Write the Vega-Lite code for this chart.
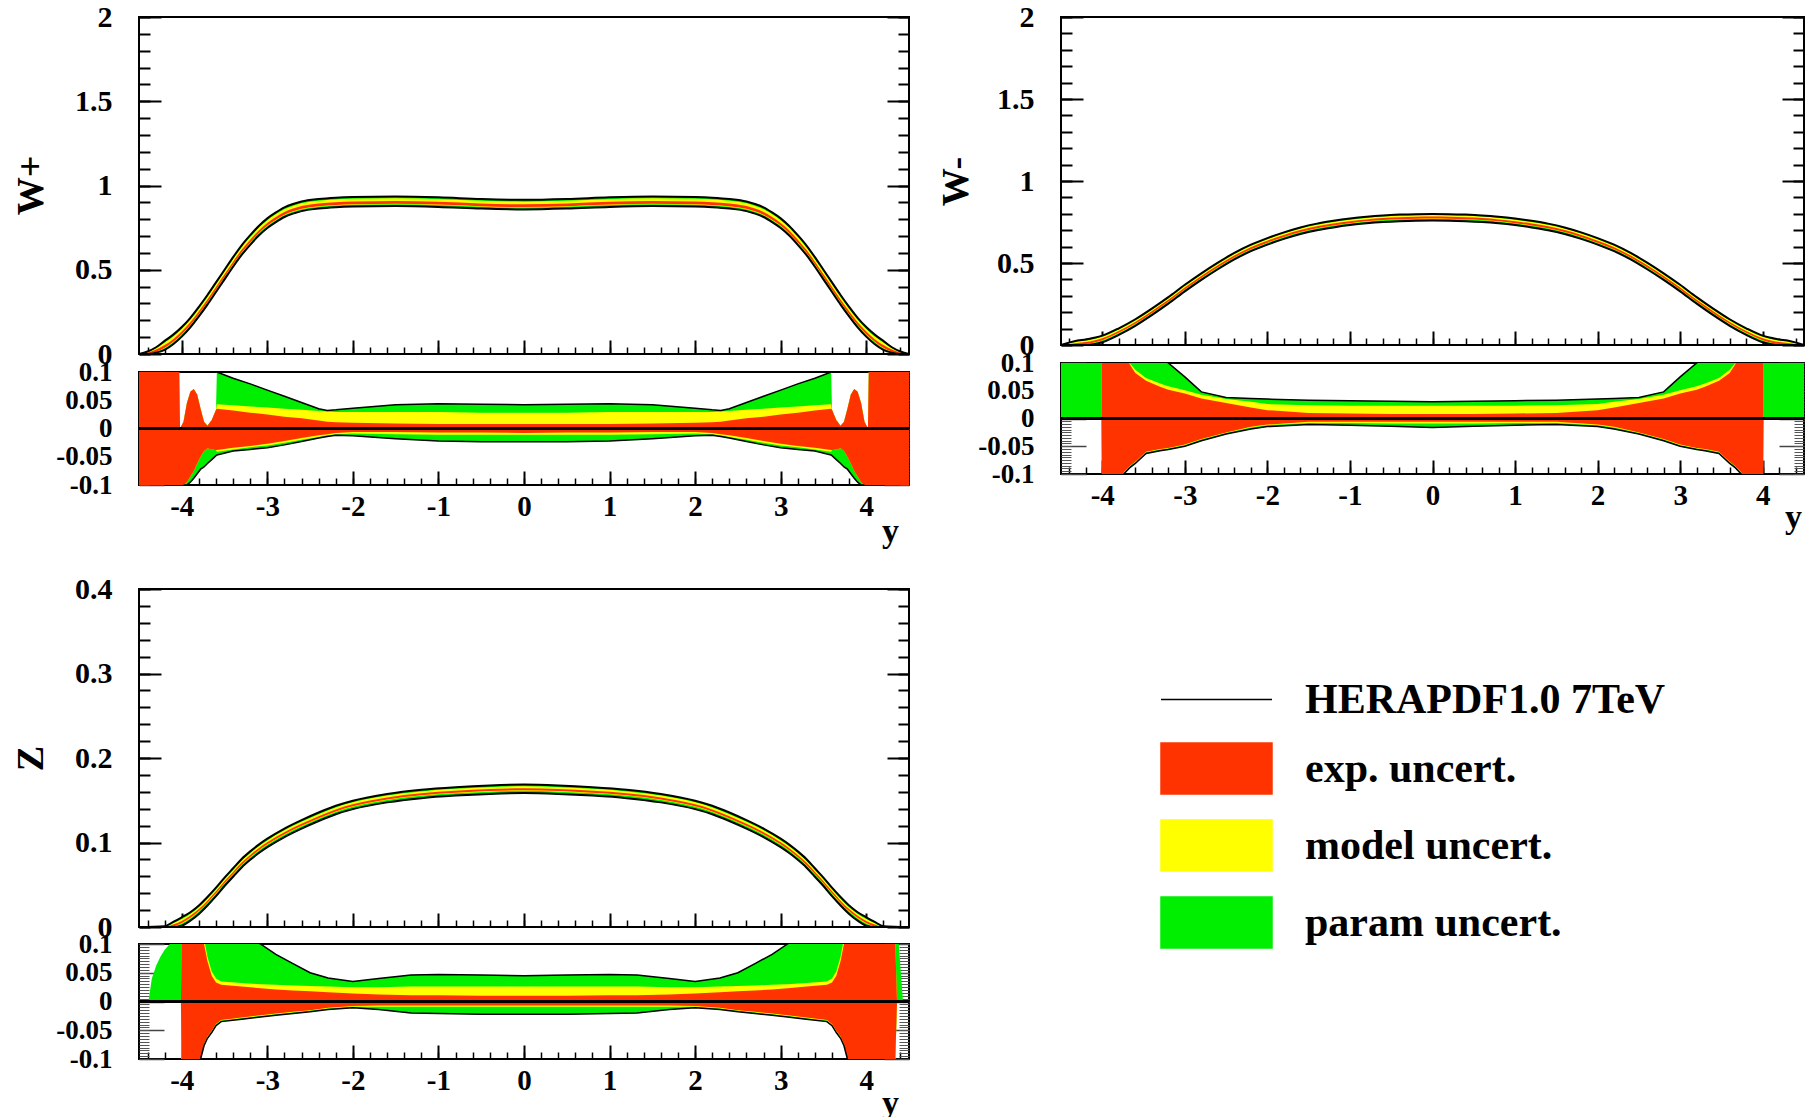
{
"$schema": "https://vega.github.io/schema/vega-lite/v6.json",
"background": "white",
"padding": {"left": 11, "top": 1, "right": 0, "bottom": 0},
"config": {
  "view": {"stroke": "black", "strokeWidth": 2},
  "font": "Liberation Serif",
  "axis": {"domain": false, "grid": false, "labelFont": "Liberation Serif", "labelFontWeight": "bold", "labelColor": "black", "titleFont": "Liberation Serif", "titleFontWeight": "bold", "titleColor": "black", "tickColor": "black", "labelFlush": false, "labelOverlap": false}
},
"bounds": "full",
"spacing": 24,
"vconcat": [
{
  "bounds": "full",
  "spacing": 22,
  "hconcat": [
  {
    "bounds": "flush",
    "spacing": 18,
    "vconcat": [
    {
      "width": 770, "height": 337,
      "data": {"values": [
{"r":-4.5,"lo":0,"yl":0,"rl":0,"rh":0,"yh":0,"hi":0},
{"r":-4.4,"lo":0,"yl":0.001,"rl":0.002,"rh":0.008,"yh":0.011,"hi":0.015},
{"r":-4.3,"lo":0.008,"yl":0.012,"rl":0.014,"rh":0.026,"yh":0.034,"hi":0.04},
{"r":-4.2,"lo":0.025,"yl":0.034,"rl":0.037,"rh":0.053,"yh":0.068,"hi":0.078},
{"r":-4.1,"lo":0.058,"yl":0.069,"rl":0.072,"rh":0.088,"yh":0.104,"hi":0.115},
{"r":-4.0,"lo":0.103,"yl":0.114,"rl":0.117,"rh":0.133,"yh":0.149,"hi":0.16},
{"r":-3.9,"lo":0.158,"yl":0.169,"rl":0.172,"rh":0.188,"yh":0.204,"hi":0.215},
{"r":-3.8,"lo":0.223,"yl":0.234,"rl":0.237,"rh":0.253,"yh":0.269,"hi":0.28},
{"r":-3.7,"lo":0.293,"yl":0.304,"rl":0.307,"rh":0.323,"yh":0.339,"hi":0.35},
{"r":-3.6,"lo":0.368,"yl":0.379,"rl":0.382,"rh":0.398,"yh":0.414,"hi":0.425},
{"r":-3.5,"lo":0.443,"yl":0.454,"rl":0.457,"rh":0.473,"yh":0.489,"hi":0.5},
{"r":-3.4,"lo":0.518,"yl":0.529,"rl":0.532,"rh":0.548,"yh":0.564,"hi":0.575},
{"r":-3.3,"lo":0.588,"yl":0.599,"rl":0.602,"rh":0.618,"yh":0.634,"hi":0.645},
{"r":-3.2,"lo":0.648,"yl":0.659,"rl":0.662,"rh":0.678,"yh":0.694,"hi":0.705},
{"r":-3.1,"lo":0.703,"yl":0.714,"rl":0.717,"rh":0.733,"yh":0.749,"hi":0.76},
{"r":-3.0,"lo":0.748,"yl":0.759,"rl":0.762,"rh":0.778,"yh":0.794,"hi":0.805},
{"r":-2.9,"lo":0.783,"yl":0.794,"rl":0.797,"rh":0.813,"yh":0.829,"hi":0.84},
{"r":-2.8,"lo":0.813,"yl":0.824,"rl":0.827,"rh":0.843,"yh":0.859,"hi":0.87},
{"r":-2.7,"lo":0.833,"yl":0.844,"rl":0.847,"rh":0.863,"yh":0.879,"hi":0.89},
{"r":-2.6,"lo":0.848,"yl":0.859,"rl":0.862,"rh":0.878,"yh":0.894,"hi":0.905},
{"r":-2.4,"lo":0.863,"yl":0.874,"rl":0.877,"rh":0.893,"yh":0.909,"hi":0.92},
{"r":-2.2,"lo":0.871,"yl":0.882,"rl":0.885,"rh":0.901,"yh":0.917,"hi":0.928},
{"r":-2.0,"lo":0.875,"yl":0.886,"rl":0.889,"rh":0.905,"yh":0.921,"hi":0.932},
{"r":-1.5,"lo":0.878,"yl":0.889,"rl":0.892,"rh":0.908,"yh":0.924,"hi":0.935},
{"r":-1.0,"lo":0.873,"yl":0.884,"rl":0.887,"rh":0.903,"yh":0.919,"hi":0.93},
{"r":-0.5,"lo":0.863,"yl":0.874,"rl":0.877,"rh":0.893,"yh":0.909,"hi":0.92},
{"r":0,"lo":0.858,"yl":0.869,"rl":0.872,"rh":0.888,"yh":0.904,"hi":0.915},
{"r":0.5,"lo":0.863,"yl":0.874,"rl":0.877,"rh":0.893,"yh":0.909,"hi":0.92},
{"r":1.0,"lo":0.873,"yl":0.884,"rl":0.887,"rh":0.903,"yh":0.919,"hi":0.93},
{"r":1.5,"lo":0.878,"yl":0.889,"rl":0.892,"rh":0.908,"yh":0.924,"hi":0.935},
{"r":2.0,"lo":0.875,"yl":0.886,"rl":0.889,"rh":0.905,"yh":0.921,"hi":0.932},
{"r":2.2,"lo":0.871,"yl":0.882,"rl":0.885,"rh":0.901,"yh":0.917,"hi":0.928},
{"r":2.4,"lo":0.863,"yl":0.874,"rl":0.877,"rh":0.893,"yh":0.909,"hi":0.92},
{"r":2.6,"lo":0.848,"yl":0.859,"rl":0.862,"rh":0.878,"yh":0.894,"hi":0.905},
{"r":2.7,"lo":0.833,"yl":0.844,"rl":0.847,"rh":0.863,"yh":0.879,"hi":0.89},
{"r":2.8,"lo":0.813,"yl":0.824,"rl":0.827,"rh":0.843,"yh":0.859,"hi":0.87},
{"r":2.9,"lo":0.783,"yl":0.794,"rl":0.797,"rh":0.813,"yh":0.829,"hi":0.84},
{"r":3.0,"lo":0.748,"yl":0.759,"rl":0.762,"rh":0.778,"yh":0.794,"hi":0.805},
{"r":3.1,"lo":0.703,"yl":0.714,"rl":0.717,"rh":0.733,"yh":0.749,"hi":0.76},
{"r":3.2,"lo":0.648,"yl":0.659,"rl":0.662,"rh":0.678,"yh":0.694,"hi":0.705},
{"r":3.3,"lo":0.588,"yl":0.599,"rl":0.602,"rh":0.618,"yh":0.634,"hi":0.645},
{"r":3.4,"lo":0.518,"yl":0.529,"rl":0.532,"rh":0.548,"yh":0.564,"hi":0.575},
{"r":3.5,"lo":0.443,"yl":0.454,"rl":0.457,"rh":0.473,"yh":0.489,"hi":0.5},
{"r":3.6,"lo":0.368,"yl":0.379,"rl":0.382,"rh":0.398,"yh":0.414,"hi":0.425},
{"r":3.7,"lo":0.293,"yl":0.304,"rl":0.307,"rh":0.323,"yh":0.339,"hi":0.35},
{"r":3.8,"lo":0.223,"yl":0.234,"rl":0.237,"rh":0.253,"yh":0.269,"hi":0.28},
{"r":3.9,"lo":0.158,"yl":0.169,"rl":0.172,"rh":0.188,"yh":0.204,"hi":0.215},
{"r":4.0,"lo":0.103,"yl":0.114,"rl":0.117,"rh":0.133,"yh":0.149,"hi":0.16},
{"r":4.1,"lo":0.058,"yl":0.069,"rl":0.072,"rh":0.088,"yh":0.104,"hi":0.115},
{"r":4.2,"lo":0.025,"yl":0.034,"rl":0.037,"rh":0.053,"yh":0.068,"hi":0.078},
{"r":4.3,"lo":0.008,"yl":0.012,"rl":0.014,"rh":0.026,"yh":0.034,"hi":0.04},
{"r":4.4,"lo":0,"yl":0.001,"rl":0.002,"rh":0.008,"yh":0.011,"hi":0.015},
{"r":4.5,"lo":0,"yl":0,"rl":0,"rh":0,"yh":0,"hi":0}
      ]},
      "resolve": {"axis": {"x": "independent", "y": "independent"}},
      "layer": [
        {"mark": {"type": "area", "color": "#00ee00", "interpolate": "monotone"},
         "encoding": {
           "x": {"field": "r", "type": "quantitative", "scale": {"domain": [-4.5, 4.5], "nice": false, "zero": false}, "axis": {"orient": "bottom", "values": [-4,-3,-2,-1,0,1,2,3,4], "labels": false, "tickSize": -14, "tickWidth": 2, "title": null}},
           "y": {"field": "lo", "type": "quantitative", "scale": {"domain": [0, 2], "nice": false, "zero": false}, "axis": {"orient": "left", "values": [0,0.5,1,1.5,2], "labelExpr": "'' + datum.value", "labelFontSize": 30, "labelPadding": 49, "tickSize": -22, "tickWidth": 2, "title": "W+", "titleFontSize": 38, "titleX": -108, "titleY": 168, "titleBaseline": "middle", "titleAlign": "center", "titleAngle": 270}},
           "y2": {"field": "hi"}}},
        {"mark": {"type": "area", "color": "#ffff00", "interpolate": "monotone"},
         "encoding": {
           "x": {"field": "r", "type": "quantitative", "axis": {"orient": "bottom", "tickCount": 45, "labels": false, "tickSize": -7, "tickWidth": 1.5, "title": null}},
           "y": {"field": "yl", "type": "quantitative", "axis": {"orient": "left", "tickCount": 20, "labels": false, "tickSize": -11, "tickWidth": 2, "title": null}},
           "y2": {"field": "yh"}}},
        {"mark": {"type": "area", "color": "#ff3300", "interpolate": "monotone"},
         "encoding": {
           "x": {"field": "r", "type": "quantitative", "axis": null},
           "y": {"field": "rl", "type": "quantitative", "axis": {"orient": "right", "values": [0,0.5,1,1.5,2], "labels": false, "tickSize": -22, "tickWidth": 2, "title": null}},
           "y2": {"field": "rh"}}},
        {"mark": {"type": "line", "color": "black", "strokeWidth": 2, "interpolate": "monotone"},
         "encoding": {
           "x": {"field": "r", "type": "quantitative", "axis": null},
           "y": {"field": "lo", "type": "quantitative", "axis": {"orient": "right", "tickCount": 20, "labels": false, "tickSize": -11, "tickWidth": 2, "title": null}}}},
        {"mark": {"type": "line", "color": "black", "strokeWidth": 2, "interpolate": "monotone"},
         "encoding": {
           "x": {"field": "r", "type": "quantitative", "axis": null},
           "y": {"field": "hi", "type": "quantitative", "axis": null}}}
      ]
    },
    {
      "width": 770, "height": 113,
      "data": {"values": [
{"r":-4.5,"gl":-0.1,"yl":-0.1,"rl":-0.1,"rh":0.1,"yh":0.1,"gh":0.1},
{"r":-4.03,"gl":-0.1,"yl":-0.1,"rl":-0.1,"rh":0.1,"yh":0.1,"gh":0.1},
{"r":-4.02,"gl":-0.1,"yl":-0.1,"rl":-0.1,"rh":0,"yh":0,"gh":0},
{"r":-3.98,"gl":-0.1,"yl":-0.1,"rl":-0.1,"rh":0.012,"yh":0.012,"gh":0.012,"bl":-0.1},
{"r":-3.94,"gl":-0.1,"yl":-0.095,"rl":-0.095,"rh":0.045,"yh":0.045,"gh":0.045,"bl":-0.1},
{"r":-3.9,"gl":-0.095,"yl":-0.085,"rl":-0.085,"rh":0.065,"yh":0.065,"gh":0.065,"bl":-0.095},
{"r":-3.86,"gl":-0.088,"yl":-0.075,"rl":-0.075,"rh":0.07,"yh":0.07,"gh":0.07,"bl":-0.088},
{"r":-3.82,"gl":-0.08,"yl":-0.062,"rl":-0.062,"rh":0.06,"yh":0.06,"gh":0.06,"bl":-0.08},
{"r":-3.78,"gl":-0.072,"yl":-0.05,"rl":-0.05,"rh":0.035,"yh":0.035,"gh":0.035,"bl":-0.072},
{"r":-3.74,"gl":-0.068,"yl":-0.04,"rl":-0.04,"rh":0.012,"yh":0.012,"gh":0.012,"bl":-0.068},
{"r":-3.7,"gl":-0.062,"yl":-0.035,"rl":-0.035,"rh":0.005,"yh":0.005,"gh":0.005,"bl":-0.062},
{"r":-3.65,"gl":-0.055,"yl":-0.037,"rl":-0.037,"rh":0.015,"yh":0.015,"gh":0.015,"bl":-0.055},
{"r":-3.6,"gl":-0.048,"yl":-0.038,"rl":-0.038,"rh":0.033,"yh":0.033,"gh":0.033,"bl":-0.048},
{"r":-3.59,"gl":-0.047,"yl":-0.041,"rl":-0.038,"rh":0.035,"yh":0.043,"gh":0.1,"bl":-0.047,"bh":0.1},
{"r":-3.4,"gl":-0.04,"yl":-0.037,"rl":-0.034,"rh":0.032,"yh":0.041,"gh":0.089,"bl":-0.04,"bh":0.089},
{"r":-3.2,"gl":-0.037,"yl":-0.033,"rl":-0.031,"rh":0.028,"yh":0.039,"gh":0.079,"bl":-0.037,"bh":0.079},
{"r":-3.0,"gl":-0.034,"yl":-0.03,"rl":-0.027,"rh":0.025,"yh":0.037,"gh":0.068,"bl":-0.034,"bh":0.068},
{"r":-2.8,"gl":-0.029,"yl":-0.025,"rl":-0.022,"rh":0.021,"yh":0.035,"gh":0.057,"bl":-0.029,"bh":0.057},
{"r":-2.6,"gl":-0.023,"yl":-0.02,"rl":-0.017,"rh":0.018,"yh":0.033,"gh":0.046,"bl":-0.023,"bh":0.046},
{"r":-2.4,"gl":-0.017,"yl":-0.015,"rl":-0.012,"rh":0.014,"yh":0.031,"gh":0.035,"bl":-0.017,"bh":0.035},
{"r":-2.3,"gl":-0.014,"yl":-0.012,"rl":-0.01,"rh":0.012,"yh":0.03,"gh":0.032,"bl":-0.014,"bh":0.032},
{"r":-2.2,"gl":-0.012,"yl":-0.01,"rl":-0.008,"rh":0.011,"yh":0.029,"gh":0.033,"bl":-0.012,"bh":0.033},
{"r":-2.0,"gl":-0.013,"yl":-0.009,"rl":-0.006,"rh":0.01,"yh":0.029,"gh":0.036,"bl":-0.013,"bh":0.036},
{"r":-1.5,"gl":-0.018,"yl":-0.01,"rl":-0.006,"rh":0.009,"yh":0.029,"gh":0.042,"bl":-0.018,"bh":0.042},
{"r":-1.0,"gl":-0.022,"yl":-0.011,"rl":-0.007,"rh":0.008,"yh":0.029,"gh":0.044,"bl":-0.022,"bh":0.044},
{"r":-0.5,"gl":-0.0235,"yl":-0.011,"rl":-0.007,"rh":0.008,"yh":0.028,"gh":0.043,"bl":-0.0235,"bh":0.043},
{"r":0,"gl":-0.0235,"yl":-0.011,"rl":-0.008,"rh":0.008,"yh":0.028,"gh":0.042,"bl":-0.0235,"bh":0.042},
{"r":0.5,"gl":-0.0235,"yl":-0.011,"rl":-0.007,"rh":0.008,"yh":0.028,"gh":0.043,"bl":-0.0235,"bh":0.043},
{"r":1.0,"gl":-0.022,"yl":-0.011,"rl":-0.007,"rh":0.008,"yh":0.029,"gh":0.044,"bl":-0.022,"bh":0.044},
{"r":1.5,"gl":-0.018,"yl":-0.01,"rl":-0.006,"rh":0.009,"yh":0.029,"gh":0.042,"bl":-0.018,"bh":0.042},
{"r":2.0,"gl":-0.013,"yl":-0.009,"rl":-0.006,"rh":0.01,"yh":0.029,"gh":0.036,"bl":-0.013,"bh":0.036},
{"r":2.2,"gl":-0.012,"yl":-0.01,"rl":-0.008,"rh":0.011,"yh":0.029,"gh":0.033,"bl":-0.012,"bh":0.033},
{"r":2.3,"gl":-0.014,"yl":-0.012,"rl":-0.01,"rh":0.012,"yh":0.03,"gh":0.032,"bl":-0.014,"bh":0.032},
{"r":2.4,"gl":-0.017,"yl":-0.015,"rl":-0.012,"rh":0.014,"yh":0.031,"gh":0.035,"bl":-0.017,"bh":0.035},
{"r":2.6,"gl":-0.023,"yl":-0.02,"rl":-0.017,"rh":0.018,"yh":0.033,"gh":0.046,"bl":-0.023,"bh":0.046},
{"r":2.8,"gl":-0.029,"yl":-0.025,"rl":-0.022,"rh":0.021,"yh":0.035,"gh":0.057,"bl":-0.029,"bh":0.057},
{"r":3.0,"gl":-0.034,"yl":-0.03,"rl":-0.027,"rh":0.025,"yh":0.037,"gh":0.068,"bl":-0.034,"bh":0.068},
{"r":3.2,"gl":-0.037,"yl":-0.033,"rl":-0.031,"rh":0.028,"yh":0.039,"gh":0.079,"bl":-0.037,"bh":0.079},
{"r":3.4,"gl":-0.04,"yl":-0.037,"rl":-0.034,"rh":0.032,"yh":0.041,"gh":0.089,"bl":-0.04,"bh":0.089},
{"r":3.59,"gl":-0.047,"yl":-0.041,"rl":-0.038,"rh":0.035,"yh":0.043,"gh":0.1,"bl":-0.047,"bh":0.1},
{"r":3.6,"gl":-0.048,"yl":-0.038,"rl":-0.038,"rh":0.033,"yh":0.033,"gh":0.033,"bl":-0.048},
{"r":3.65,"gl":-0.055,"yl":-0.037,"rl":-0.037,"rh":0.015,"yh":0.015,"gh":0.015,"bl":-0.055},
{"r":3.7,"gl":-0.062,"yl":-0.035,"rl":-0.035,"rh":0.005,"yh":0.005,"gh":0.005,"bl":-0.062},
{"r":3.74,"gl":-0.068,"yl":-0.04,"rl":-0.04,"rh":0.012,"yh":0.012,"gh":0.012,"bl":-0.068},
{"r":3.78,"gl":-0.072,"yl":-0.05,"rl":-0.05,"rh":0.035,"yh":0.035,"gh":0.035,"bl":-0.072},
{"r":3.82,"gl":-0.08,"yl":-0.062,"rl":-0.062,"rh":0.06,"yh":0.06,"gh":0.06,"bl":-0.08},
{"r":3.86,"gl":-0.088,"yl":-0.075,"rl":-0.075,"rh":0.07,"yh":0.07,"gh":0.07,"bl":-0.088},
{"r":3.9,"gl":-0.095,"yl":-0.085,"rl":-0.085,"rh":0.065,"yh":0.065,"gh":0.065,"bl":-0.095},
{"r":3.94,"gl":-0.1,"yl":-0.095,"rl":-0.095,"rh":0.045,"yh":0.045,"gh":0.045,"bl":-0.1},
{"r":3.98,"gl":-0.1,"yl":-0.1,"rl":-0.1,"rh":0.012,"yh":0.012,"gh":0.012,"bl":-0.1},
{"r":4.02,"gl":-0.1,"yl":-0.1,"rl":-0.1,"rh":0,"yh":0,"gh":0},
{"r":4.03,"gl":-0.1,"yl":-0.1,"rl":-0.1,"rh":0.1,"yh":0.1,"gh":0.1},
{"r":4.5,"gl":-0.1,"yl":-0.1,"rl":-0.1,"rh":0.1,"yh":0.1,"gh":0.1}
      ]},
      "resolve": {"axis": {"x": "independent", "y": "independent"}},
      "layer": [
        {"mark": {"type": "area", "color": "#00ee00", "clip": true},
         "encoding": {
           "x": {"field": "r", "type": "quantitative", "scale": {"domain": [-4.5, 4.5], "nice": false, "zero": false}, "axis": {"orient": "bottom", "values": [-4,-3,-2,-1,0,1,2,3,4], "labelExpr": "'' + datum.value", "labelFontSize": 29, "labelPadding": 21, "tickSize": -14, "tickWidth": 2, "title": "y", "titleFontSize": 34, "titleX": 751, "titleY": 56, "titleBaseline": "alphabetic", "titleAlign": "center"}},
           "y": {"field": "gl", "type": "quantitative", "scale": {"domain": [-0.1, 0.1], "nice": false, "zero": false}, "axis": {"orient": "left", "values": [-0.1,-0.05,0,0.05,0.1], "labelExpr": "'' + datum.value", "labelFontSize": 27, "labelPadding": 52, "tickSize": -25, "tickWidth": 1.5, "tickColor": "#444444", "title": null}},
           "y2": {"field": "gh"}}},
        {"mark": {"type": "area", "color": "#ffff00", "clip": true},
         "encoding": {
           "x": {"field": "r", "type": "quantitative", "axis": {"orient": "bottom", "tickCount": 45, "labels": false, "tickSize": -7, "tickWidth": 1.5, "title": null}},
           "y": {"field": "yl", "type": "quantitative", "axis": {"orient": "left", "tickCount": 40, "labels": false, "tickSize": -10, "tickWidth": 1, "tickColor": "#555555", "title": null}},
           "y2": {"field": "yh"}}},
        {"mark": {"type": "area", "color": "#ff3300", "clip": true},
         "encoding": {
           "x": {"field": "r", "type": "quantitative", "axis": null},
           "y": {"field": "rl", "type": "quantitative", "axis": {"orient": "right", "values": [-0.1,-0.05,0,0.05,0.1], "labels": false, "tickSize": -25, "tickWidth": 1.5, "tickColor": "#444444", "title": null}},
           "y2": {"field": "rh"}}},
        {"mark": {"type": "line", "color": "black", "strokeWidth": 1.5, "clip": true},
         "encoding": {
           "x": {"field": "r", "type": "quantitative", "axis": null},
           "y": {"field": "bl", "type": "quantitative", "axis": {"orient": "right", "tickCount": 40, "labels": false, "tickSize": -10, "tickWidth": 1, "tickColor": "#555555", "title": null}}}},
        {"mark": {"type": "line", "color": "black", "strokeWidth": 1.5, "clip": true},
         "encoding": {
           "x": {"field": "r", "type": "quantitative", "axis": null},
           "y": {"field": "bh", "type": "quantitative", "axis": null}}},
        {"mark": {"type": "rule", "color": "black", "strokeWidth": 3},
         "encoding": {"y": {"datum": 0, "type": "quantitative", "axis": null}}}
      ]
    }
    ]
  },
  {
    "bounds": "flush",
    "spacing": 18,
    "vconcat": [
    {
      "width": 743, "height": 328,
      "data": {"values": [
{"r":-4.5,"lo":0,"yl":0,"rl":0,"rh":0,"yh":0,"hi":0},
{"r":-4.3,"lo":0,"yl":0,"rl":0,"rh":0.012,"yh":0.021,"hi":0.028},
{"r":-4.2,"lo":0,"yl":0.004,"rl":0.006,"rh":0.018,"yh":0.027,"hi":0.034},
{"r":-4.1,"lo":0.004,"yl":0.014,"rl":0.016,"rh":0.028,"yh":0.037,"hi":0.044},
{"r":-4.0,"lo":0.017,"yl":0.027,"rl":0.029,"rh":0.041,"yh":0.05,"hi":0.057},
{"r":-3.8,"lo":0.062,"yl":0.072,"rl":0.074,"rh":0.086,"yh":0.095,"hi":0.102},
{"r":-3.6,"lo":0.117,"yl":0.127,"rl":0.129,"rh":0.141,"yh":0.15,"hi":0.157},
{"r":-3.4,"lo":0.182,"yl":0.192,"rl":0.194,"rh":0.206,"yh":0.215,"hi":0.222},
{"r":-3.2,"lo":0.252,"yl":0.262,"rl":0.264,"rh":0.276,"yh":0.285,"hi":0.292},
{"r":-3.0,"lo":0.327,"yl":0.337,"rl":0.339,"rh":0.351,"yh":0.36,"hi":0.367},
{"r":-2.8,"lo":0.397,"yl":0.407,"rl":0.409,"rh":0.421,"yh":0.43,"hi":0.437},
{"r":-2.6,"lo":0.462,"yl":0.472,"rl":0.474,"rh":0.486,"yh":0.495,"hi":0.502},
{"r":-2.4,"lo":0.522,"yl":0.532,"rl":0.534,"rh":0.546,"yh":0.555,"hi":0.562},
{"r":-2.2,"lo":0.572,"yl":0.582,"rl":0.584,"rh":0.596,"yh":0.605,"hi":0.612},
{"r":-2.0,"lo":0.612,"yl":0.622,"rl":0.624,"rh":0.636,"yh":0.645,"hi":0.652},
{"r":-1.8,"lo":0.647,"yl":0.657,"rl":0.659,"rh":0.671,"yh":0.68,"hi":0.687},
{"r":-1.6,"lo":0.677,"yl":0.687,"rl":0.689,"rh":0.701,"yh":0.71,"hi":0.717},
{"r":-1.4,"lo":0.7,"yl":0.71,"rl":0.712,"rh":0.724,"yh":0.733,"hi":0.74},
{"r":-1.2,"lo":0.717,"yl":0.727,"rl":0.729,"rh":0.741,"yh":0.75,"hi":0.757},
{"r":-1.0,"lo":0.731,"yl":0.741,"rl":0.743,"rh":0.755,"yh":0.764,"hi":0.771},
{"r":-0.8,"lo":0.742,"yl":0.752,"rl":0.754,"rh":0.766,"yh":0.775,"hi":0.782},
{"r":-0.6,"lo":0.75,"yl":0.76,"rl":0.762,"rh":0.774,"yh":0.783,"hi":0.79},
{"r":-0.4,"lo":0.755,"yl":0.765,"rl":0.767,"rh":0.779,"yh":0.788,"hi":0.795},
{"r":-0.2,"lo":0.758,"yl":0.768,"rl":0.77,"rh":0.782,"yh":0.791,"hi":0.798},
{"r":0,"lo":0.759,"yl":0.769,"rl":0.771,"rh":0.783,"yh":0.792,"hi":0.799},
{"r":0.2,"lo":0.758,"yl":0.768,"rl":0.77,"rh":0.782,"yh":0.791,"hi":0.798},
{"r":0.4,"lo":0.755,"yl":0.765,"rl":0.767,"rh":0.779,"yh":0.788,"hi":0.795},
{"r":0.6,"lo":0.75,"yl":0.76,"rl":0.762,"rh":0.774,"yh":0.783,"hi":0.79},
{"r":0.8,"lo":0.742,"yl":0.752,"rl":0.754,"rh":0.766,"yh":0.775,"hi":0.782},
{"r":1.0,"lo":0.731,"yl":0.741,"rl":0.743,"rh":0.755,"yh":0.764,"hi":0.771},
{"r":1.2,"lo":0.717,"yl":0.727,"rl":0.729,"rh":0.741,"yh":0.75,"hi":0.757},
{"r":1.4,"lo":0.7,"yl":0.71,"rl":0.712,"rh":0.724,"yh":0.733,"hi":0.74},
{"r":1.6,"lo":0.677,"yl":0.687,"rl":0.689,"rh":0.701,"yh":0.71,"hi":0.717},
{"r":1.8,"lo":0.647,"yl":0.657,"rl":0.659,"rh":0.671,"yh":0.68,"hi":0.687},
{"r":2.0,"lo":0.612,"yl":0.622,"rl":0.624,"rh":0.636,"yh":0.645,"hi":0.652},
{"r":2.2,"lo":0.572,"yl":0.582,"rl":0.584,"rh":0.596,"yh":0.605,"hi":0.612},
{"r":2.4,"lo":0.522,"yl":0.532,"rl":0.534,"rh":0.546,"yh":0.555,"hi":0.562},
{"r":2.6,"lo":0.462,"yl":0.472,"rl":0.474,"rh":0.486,"yh":0.495,"hi":0.502},
{"r":2.8,"lo":0.397,"yl":0.407,"rl":0.409,"rh":0.421,"yh":0.43,"hi":0.437},
{"r":3.0,"lo":0.327,"yl":0.337,"rl":0.339,"rh":0.351,"yh":0.36,"hi":0.367},
{"r":3.2,"lo":0.252,"yl":0.262,"rl":0.264,"rh":0.276,"yh":0.285,"hi":0.292},
{"r":3.4,"lo":0.182,"yl":0.192,"rl":0.194,"rh":0.206,"yh":0.215,"hi":0.222},
{"r":3.6,"lo":0.117,"yl":0.127,"rl":0.129,"rh":0.141,"yh":0.15,"hi":0.157},
{"r":3.8,"lo":0.062,"yl":0.072,"rl":0.074,"rh":0.086,"yh":0.095,"hi":0.102},
{"r":4.0,"lo":0.017,"yl":0.027,"rl":0.029,"rh":0.041,"yh":0.05,"hi":0.057},
{"r":4.1,"lo":0.004,"yl":0.014,"rl":0.016,"rh":0.028,"yh":0.037,"hi":0.044},
{"r":4.2,"lo":0,"yl":0.004,"rl":0.006,"rh":0.018,"yh":0.027,"hi":0.034},
{"r":4.3,"lo":0,"yl":0,"rl":0,"rh":0.012,"yh":0.021,"hi":0.028},
{"r":4.5,"lo":0,"yl":0,"rl":0,"rh":0,"yh":0,"hi":0}
      ]},
      "resolve": {"axis": {"x": "independent", "y": "independent"}},
      "layer": [
        {"mark": {"type": "area", "color": "#00ee00", "interpolate": "monotone"},
         "encoding": {
           "x": {"field": "r", "type": "quantitative", "scale": {"domain": [-4.5, 4.5], "nice": false, "zero": false}, "axis": {"orient": "bottom", "values": [-4,-3,-2,-1,0,1,2,3,4], "labels": false, "tickSize": -14, "tickWidth": 2, "title": null}},
           "y": {"field": "lo", "type": "quantitative", "scale": {"domain": [0, 2], "nice": false, "zero": false}, "axis": {"orient": "left", "values": [0,0.5,1,1.5,2], "labelExpr": "'' + datum.value", "labelFontSize": 30, "labelPadding": 49, "tickSize": -22, "tickWidth": 2, "title": "W-", "titleFontSize": 38, "titleX": -105, "titleY": 164, "titleBaseline": "middle", "titleAlign": "center", "titleAngle": 270}},
           "y2": {"field": "hi"}}},
        {"mark": {"type": "area", "color": "#ffff00", "interpolate": "monotone"},
         "encoding": {
           "x": {"field": "r", "type": "quantitative", "axis": {"orient": "bottom", "tickCount": 45, "labels": false, "tickSize": -7, "tickWidth": 1.5, "title": null}},
           "y": {"field": "yl", "type": "quantitative", "axis": {"orient": "left", "tickCount": 20, "labels": false, "tickSize": -11, "tickWidth": 2, "title": null}},
           "y2": {"field": "yh"}}},
        {"mark": {"type": "area", "color": "#ff3300", "interpolate": "monotone"},
         "encoding": {
           "x": {"field": "r", "type": "quantitative", "axis": null},
           "y": {"field": "rl", "type": "quantitative", "axis": {"orient": "right", "values": [0,0.5,1,1.5,2], "labels": false, "tickSize": -22, "tickWidth": 2, "title": null}},
           "y2": {"field": "rh"}}},
        {"mark": {"type": "line", "color": "black", "strokeWidth": 2, "interpolate": "monotone"},
         "encoding": {
           "x": {"field": "r", "type": "quantitative", "axis": null},
           "y": {"field": "lo", "type": "quantitative", "axis": {"orient": "right", "tickCount": 20, "labels": false, "tickSize": -11, "tickWidth": 2, "title": null}}}},
        {"mark": {"type": "line", "color": "black", "strokeWidth": 2, "interpolate": "monotone"},
         "encoding": {
           "x": {"field": "r", "type": "quantitative", "axis": null},
           "y": {"field": "hi", "type": "quantitative", "axis": null}}}
      ]
    },
    {
      "width": 743, "height": 111,
      "data": {"values": [
{"r":-4.5,"gl":0,"yl":0,"rl":0,"rh":0,"yh":0,"gh":0.1},
{"r":-4.01,"gl":0,"yl":0,"rl":0,"rh":0,"yh":0,"gh":0.1},
{"r":-4.0,"gl":-0.2,"yl":-0.2,"rl":-0.2,"rh":0.2,"yh":0.2,"gh":0.2},
{"r":-3.8,"gl":-0.14,"yl":-0.138,"rl":-0.135,"rh":0.2,"yh":0.2,"gh":0.2,"bl":-0.14},
{"r":-3.74,"gl":-0.1,"yl":-0.098,"rl":-0.097,"rh":0.2,"yh":0.2,"gh":0.2,"bl":-0.1},
{"r":-3.67,"gl":-0.089,"yl":-0.087,"rl":-0.086,"rh":0.098,"yh":0.1,"gh":0.2,"bl":-0.089,"bh":0.2},
{"r":-3.6,"gl":-0.081,"yl":-0.079,"rl":-0.078,"rh":0.082,"yh":0.088,"gh":0.17,"bl":-0.081,"bh":0.17},
{"r":-3.47,"gl":-0.063,"yl":-0.061,"rl":-0.06,"rh":0.068,"yh":0.073,"gh":0.135,"bl":-0.063,"bh":0.135},
{"r":-3.3,"gl":-0.058,"yl":-0.056,"rl":-0.055,"rh":0.057,"yh":0.063,"gh":0.11,"bl":-0.058,"bh":0.11},
{"r":-3.2,"gl":-0.056,"yl":-0.054,"rl":-0.053,"rh":0.052,"yh":0.058,"gh":0.1,"bl":-0.056,"bh":0.1},
{"r":-3.0,"gl":-0.05,"yl":-0.048,"rl":-0.047,"rh":0.045,"yh":0.051,"gh":0.075,"bl":-0.05,"bh":0.075},
{"r":-2.8,"gl":-0.04,"yl":-0.038,"rl":-0.037,"rh":0.036,"yh":0.043,"gh":0.048,"bl":-0.04,"bh":0.048},
{"r":-2.5,"gl":-0.028,"yl":-0.026,"rl":-0.025,"rh":0.028,"yh":0.035,"gh":0.038,"bl":-0.028,"bh":0.038},
{"r":-2.2,"gl":-0.019,"yl":-0.016,"rl":-0.015,"rh":0.02,"yh":0.03,"gh":0.036,"bl":-0.019,"bh":0.036},
{"r":-2.0,"gl":-0.0146,"yl":-0.012,"rl":-0.011,"rh":0.015,"yh":0.026,"gh":0.035,"bl":-0.0146,"bh":0.035},
{"r":-1.5,"gl":-0.011,"yl":-0.008,"rl":-0.006,"rh":0.01,"yh":0.024,"gh":0.033,"bl":-0.011,"bh":0.033},
{"r":-1.0,"gl":-0.012,"yl":-0.008,"rl":-0.006,"rh":0.009,"yh":0.023,"gh":0.032,"bl":-0.012,"bh":0.032},
{"r":-0.5,"gl":-0.014,"yl":-0.009,"rl":-0.006,"rh":0.008,"yh":0.023,"gh":0.031,"bl":-0.014,"bh":0.031},
{"r":0,"gl":-0.016,"yl":-0.009,"rl":-0.006,"rh":0.008,"yh":0.023,"gh":0.03,"bl":-0.016,"bh":0.03},
{"r":0.5,"gl":-0.014,"yl":-0.009,"rl":-0.006,"rh":0.008,"yh":0.023,"gh":0.031,"bl":-0.014,"bh":0.031},
{"r":1.0,"gl":-0.012,"yl":-0.008,"rl":-0.006,"rh":0.009,"yh":0.023,"gh":0.032,"bl":-0.012,"bh":0.032},
{"r":1.5,"gl":-0.011,"yl":-0.008,"rl":-0.006,"rh":0.01,"yh":0.024,"gh":0.033,"bl":-0.011,"bh":0.033},
{"r":2.0,"gl":-0.0146,"yl":-0.012,"rl":-0.011,"rh":0.015,"yh":0.026,"gh":0.035,"bl":-0.0146,"bh":0.035},
{"r":2.2,"gl":-0.019,"yl":-0.016,"rl":-0.015,"rh":0.02,"yh":0.03,"gh":0.036,"bl":-0.019,"bh":0.036},
{"r":2.5,"gl":-0.028,"yl":-0.026,"rl":-0.025,"rh":0.028,"yh":0.035,"gh":0.038,"bl":-0.028,"bh":0.038},
{"r":2.8,"gl":-0.04,"yl":-0.038,"rl":-0.037,"rh":0.036,"yh":0.043,"gh":0.048,"bl":-0.04,"bh":0.048},
{"r":3.0,"gl":-0.05,"yl":-0.048,"rl":-0.047,"rh":0.045,"yh":0.051,"gh":0.075,"bl":-0.05,"bh":0.075},
{"r":3.2,"gl":-0.056,"yl":-0.054,"rl":-0.053,"rh":0.052,"yh":0.058,"gh":0.1,"bl":-0.056,"bh":0.1},
{"r":3.3,"gl":-0.058,"yl":-0.056,"rl":-0.055,"rh":0.057,"yh":0.063,"gh":0.11,"bl":-0.058,"bh":0.11},
{"r":3.47,"gl":-0.063,"yl":-0.061,"rl":-0.06,"rh":0.068,"yh":0.073,"gh":0.135,"bl":-0.063,"bh":0.135},
{"r":3.6,"gl":-0.081,"yl":-0.079,"rl":-0.078,"rh":0.082,"yh":0.088,"gh":0.17,"bl":-0.081,"bh":0.17},
{"r":3.67,"gl":-0.089,"yl":-0.087,"rl":-0.086,"rh":0.098,"yh":0.1,"gh":0.2,"bl":-0.089,"bh":0.2},
{"r":3.74,"gl":-0.1,"yl":-0.098,"rl":-0.097,"rh":0.2,"yh":0.2,"gh":0.2,"bl":-0.1},
{"r":3.8,"gl":-0.14,"yl":-0.138,"rl":-0.135,"rh":0.2,"yh":0.2,"gh":0.2,"bl":-0.14},
{"r":4.0,"gl":-0.2,"yl":-0.2,"rl":-0.2,"rh":0.2,"yh":0.2,"gh":0.2},
{"r":4.01,"gl":0,"yl":0,"rl":0,"rh":0,"yh":0,"gh":0.1},
{"r":4.5,"gl":0,"yl":0,"rl":0,"rh":0,"yh":0,"gh":0.1}
      ]},
      "resolve": {"axis": {"x": "independent", "y": "independent"}},
      "layer": [
        {"mark": {"type": "area", "color": "#00ee00", "clip": true},
         "encoding": {
           "x": {"field": "r", "type": "quantitative", "scale": {"domain": [-4.5, 4.5], "nice": false, "zero": false}, "axis": {"orient": "bottom", "values": [-4,-3,-2,-1,0,1,2,3,4], "labelExpr": "'' + datum.value", "labelFontSize": 29, "labelPadding": 21, "tickSize": -14, "tickWidth": 2, "title": "y", "titleFontSize": 34, "titleX": 732, "titleY": 53, "titleBaseline": "alphabetic", "titleAlign": "center"}},
           "y": {"field": "gl", "type": "quantitative", "scale": {"domain": [-0.1, 0.1], "nice": false, "zero": false}, "axis": {"orient": "left", "values": [-0.1,-0.05,0,0.05,0.1], "labelExpr": "'' + datum.value", "labelFontSize": 27, "labelPadding": 52, "tickSize": -25, "tickWidth": 1.5, "tickColor": "#444444", "title": null}},
           "y2": {"field": "gh"}}},
        {"mark": {"type": "area", "color": "#ffff00", "clip": true},
         "encoding": {
           "x": {"field": "r", "type": "quantitative", "axis": {"orient": "bottom", "tickCount": 45, "labels": false, "tickSize": -7, "tickWidth": 1.5, "title": null}},
           "y": {"field": "yl", "type": "quantitative", "axis": {"orient": "left", "tickCount": 40, "labels": false, "tickSize": -10, "tickWidth": 1, "tickColor": "#555555", "title": null}},
           "y2": {"field": "yh"}}},
        {"mark": {"type": "area", "color": "#ff3300", "clip": true},
         "encoding": {
           "x": {"field": "r", "type": "quantitative", "axis": null},
           "y": {"field": "rl", "type": "quantitative", "axis": {"orient": "right", "values": [-0.1,-0.05,0,0.05,0.1], "labels": false, "tickSize": -25, "tickWidth": 1.5, "tickColor": "#444444", "title": null}},
           "y2": {"field": "rh"}}},
        {"mark": {"type": "line", "color": "black", "strokeWidth": 1.5, "clip": true},
         "encoding": {
           "x": {"field": "r", "type": "quantitative", "axis": null},
           "y": {"field": "bl", "type": "quantitative", "axis": {"orient": "right", "tickCount": 40, "labels": false, "tickSize": -10, "tickWidth": 1, "tickColor": "#555555", "title": null}}}},
        {"mark": {"type": "line", "color": "black", "strokeWidth": 1.5, "clip": true},
         "encoding": {
           "x": {"field": "r", "type": "quantitative", "axis": null},
           "y": {"field": "bh", "type": "quantitative", "axis": null}}},
        {"mark": {"type": "rule", "color": "black", "strokeWidth": 3},
         "encoding": {"y": {"datum": 0, "type": "quantitative", "axis": null}}}
      ]
    }
    ]
  }
  ]
},
{
  "bounds": "flush",
  "spacing": 17,
  "vconcat": [
  {
    "width": 770, "height": 338,
    "data": {"values": [
{"r":-4.5,"lo":0,"yl":0,"rl":0,"rh":0,"yh":0,"hi":0},
{"r":-4.2,"lo":0,"yl":0,"rl":0,"rh":0,"yh":0,"hi":0.001},
{"r":-4.1,"lo":0,"yl":0.0005,"rl":0.001,"rh":0.003,"yh":0.0045,"hi":0.006},
{"r":-4.0,"lo":0.0015,"yl":0.0042,"rl":0.0048,"rh":0.0072,"yh":0.0095,"hi":0.0115},
{"r":-3.9,"lo":0.0075,"yl":0.0102,"rl":0.0108,"rh":0.0132,"yh":0.0155,"hi":0.0175},
{"r":-3.8,"lo":0.0155,"yl":0.0182,"rl":0.0188,"rh":0.0212,"yh":0.0235,"hi":0.0255},
{"r":-3.7,"lo":0.0255,"yl":0.0282,"rl":0.0288,"rh":0.0312,"yh":0.0335,"hi":0.0355},
{"r":-3.6,"lo":0.0365,"yl":0.0392,"rl":0.0398,"rh":0.0422,"yh":0.0445,"hi":0.0465},
{"r":-3.5,"lo":0.0485,"yl":0.0512,"rl":0.0518,"rh":0.0542,"yh":0.0565,"hi":0.0585},
{"r":-3.4,"lo":0.0595,"yl":0.0622,"rl":0.0628,"rh":0.0652,"yh":0.0675,"hi":0.0695},
{"r":-3.3,"lo":0.0705,"yl":0.0732,"rl":0.0738,"rh":0.0762,"yh":0.0785,"hi":0.0805},
{"r":-3.2,"lo":0.0795,"yl":0.0822,"rl":0.0828,"rh":0.0852,"yh":0.0875,"hi":0.0895},
{"r":-3.1,"lo":0.0875,"yl":0.0902,"rl":0.0908,"rh":0.0932,"yh":0.0955,"hi":0.0975},
{"r":-3.0,"lo":0.0945,"yl":0.0972,"rl":0.0978,"rh":0.1002,"yh":0.1025,"hi":0.1045},
{"r":-2.8,"lo":0.1065,"yl":0.1092,"rl":0.1098,"rh":0.1122,"yh":0.1145,"hi":0.1165},
{"r":-2.6,"lo":0.1165,"yl":0.1192,"rl":0.1198,"rh":0.1222,"yh":0.1245,"hi":0.1265},
{"r":-2.4,"lo":0.1255,"yl":0.1282,"rl":0.1288,"rh":0.1312,"yh":0.1335,"hi":0.1355},
{"r":-2.2,"lo":0.1335,"yl":0.1362,"rl":0.1368,"rh":0.1392,"yh":0.1415,"hi":0.1435},
{"r":-2.0,"lo":0.1395,"yl":0.1422,"rl":0.1428,"rh":0.1452,"yh":0.1475,"hi":0.1495},
{"r":-1.6,"lo":0.1475,"yl":0.1502,"rl":0.1508,"rh":0.1532,"yh":0.1555,"hi":0.1575},
{"r":-1.2,"lo":0.1525,"yl":0.1552,"rl":0.1558,"rh":0.1582,"yh":0.1605,"hi":0.1625},
{"r":-0.8,"lo":0.1555,"yl":0.1582,"rl":0.1588,"rh":0.1612,"yh":0.1635,"hi":0.1655},
{"r":-0.4,"lo":0.1575,"yl":0.1602,"rl":0.1608,"rh":0.1632,"yh":0.1655,"hi":0.1675},
{"r":0,"lo":0.1585,"yl":0.1612,"rl":0.1618,"rh":0.1642,"yh":0.1665,"hi":0.1685},
{"r":0.4,"lo":0.1575,"yl":0.1602,"rl":0.1608,"rh":0.1632,"yh":0.1655,"hi":0.1675},
{"r":0.8,"lo":0.1555,"yl":0.1582,"rl":0.1588,"rh":0.1612,"yh":0.1635,"hi":0.1655},
{"r":1.2,"lo":0.1525,"yl":0.1552,"rl":0.1558,"rh":0.1582,"yh":0.1605,"hi":0.1625},
{"r":1.6,"lo":0.1475,"yl":0.1502,"rl":0.1508,"rh":0.1532,"yh":0.1555,"hi":0.1575},
{"r":2.0,"lo":0.1395,"yl":0.1422,"rl":0.1428,"rh":0.1452,"yh":0.1475,"hi":0.1495},
{"r":2.2,"lo":0.1335,"yl":0.1362,"rl":0.1368,"rh":0.1392,"yh":0.1415,"hi":0.1435},
{"r":2.4,"lo":0.1255,"yl":0.1282,"rl":0.1288,"rh":0.1312,"yh":0.1335,"hi":0.1355},
{"r":2.6,"lo":0.1165,"yl":0.1192,"rl":0.1198,"rh":0.1222,"yh":0.1245,"hi":0.1265},
{"r":2.8,"lo":0.1065,"yl":0.1092,"rl":0.1098,"rh":0.1122,"yh":0.1145,"hi":0.1165},
{"r":3.0,"lo":0.0945,"yl":0.0972,"rl":0.0978,"rh":0.1002,"yh":0.1025,"hi":0.1045},
{"r":3.1,"lo":0.0875,"yl":0.0902,"rl":0.0908,"rh":0.0932,"yh":0.0955,"hi":0.0975},
{"r":3.2,"lo":0.0795,"yl":0.0822,"rl":0.0828,"rh":0.0852,"yh":0.0875,"hi":0.0895},
{"r":3.3,"lo":0.0705,"yl":0.0732,"rl":0.0738,"rh":0.0762,"yh":0.0785,"hi":0.0805},
{"r":3.4,"lo":0.0595,"yl":0.0622,"rl":0.0628,"rh":0.0652,"yh":0.0675,"hi":0.0695},
{"r":3.5,"lo":0.0485,"yl":0.0512,"rl":0.0518,"rh":0.0542,"yh":0.0565,"hi":0.0585},
{"r":3.6,"lo":0.0365,"yl":0.0392,"rl":0.0398,"rh":0.0422,"yh":0.0445,"hi":0.0465},
{"r":3.7,"lo":0.0255,"yl":0.0282,"rl":0.0288,"rh":0.0312,"yh":0.0335,"hi":0.0355},
{"r":3.8,"lo":0.0155,"yl":0.0182,"rl":0.0188,"rh":0.0212,"yh":0.0235,"hi":0.0255},
{"r":3.9,"lo":0.0075,"yl":0.0102,"rl":0.0108,"rh":0.0132,"yh":0.0155,"hi":0.0175},
{"r":4.0,"lo":0.0015,"yl":0.0042,"rl":0.0048,"rh":0.0072,"yh":0.0095,"hi":0.0115},
{"r":4.1,"lo":0,"yl":0.0005,"rl":0.001,"rh":0.003,"yh":0.0045,"hi":0.006},
{"r":4.2,"lo":0,"yl":0,"rl":0,"rh":0,"yh":0,"hi":0.001},
{"r":4.5,"lo":0,"yl":0,"rl":0,"rh":0,"yh":0,"hi":0}
    ]},
    "resolve": {"axis": {"x": "independent", "y": "independent"}},
    "layer": [
      {"mark": {"type": "area", "interpolate": "monotone"},
       "encoding": {
         "x": {"field": "r", "type": "quantitative", "scale": {"domain": [-4.5, 4.5], "nice": false, "zero": false}, "axis": {"orient": "bottom", "values": [-4,-3,-2,-1,0,1,2,3,4], "labels": false, "tickSize": -14, "tickWidth": 2, "title": null}},
         "y": {"field": "lo", "type": "quantitative", "scale": {"domain": [0, 0.4], "nice": false, "zero": false}, "axis": {"orient": "left", "values": [0,0.1,0.2,0.3,0.4], "labelExpr": "'' + datum.value", "labelFontSize": 30, "labelPadding": 49, "tickSize": -22, "tickWidth": 2, "title": "Z", "titleFontSize": 38, "titleX": -108, "titleY": 169, "titleBaseline": "middle", "titleAlign": "center", "titleAngle": 270}},
         "y2": {"field": "hi"},
         "color": {"datum": "param uncert.", "type": "nominal",
           "scale": {"domain": ["HERAPDF1.0 7TeV", "exp. uncert.", "model uncert.", "param uncert."], "range": ["black", "#ff3300", "#ffff00", "#00ee00"]},
           "legend": {"orient": "none", "legendX": 1049, "legendY": 654, "title": null, "padding": 0, "labelFont": "Liberation Serif", "labelFontWeight": "bold", "labelFontSize": 42, "labelColor": "black", "labelOffset": 60, "labelLimit": 0, "rowPadding": 18, "symbolSize": 3080, "symbolStrokeWidth": 1.5,
             "encode": {"symbols": {"update": {
               "shape": {"signal": "datum.value === 'HERAPDF1.0 7TeV' ? 'M-2,0H2' : 'M-2,-0.92H2V0.92H-2Z'"},
               "fill": {"signal": "datum.value === 'HERAPDF1.0 7TeV' ? 'transparent' : scale('color', datum.value)"},
               "stroke": {"signal": "datum.value === 'HERAPDF1.0 7TeV' ? 'black' : '#666666'"},
               "strokeWidth": {"value": 1.5},
               "opacity": {"value": 1},
               "fillOpacity": {"value": 1},
               "strokeOpacity": {"value": 1}}}}}}}},
      {"mark": {"type": "area", "interpolate": "monotone"},
       "encoding": {
         "x": {"field": "r", "type": "quantitative", "axis": {"orient": "bottom", "tickCount": 45, "labels": false, "tickSize": -7, "tickWidth": 1.5, "title": null}},
         "y": {"field": "yl", "type": "quantitative", "axis": {"orient": "left", "tickCount": 20, "labels": false, "tickSize": -11, "tickWidth": 2, "title": null}},
         "y2": {"field": "yh"},
         "color": {"datum": "model uncert.", "type": "nominal"}}},
      {"mark": {"type": "area", "interpolate": "monotone"},
       "encoding": {
         "x": {"field": "r", "type": "quantitative", "axis": null},
         "y": {"field": "rl", "type": "quantitative", "axis": {"orient": "right", "values": [0,0.1,0.2,0.3,0.4], "labels": false, "tickSize": -22, "tickWidth": 2, "title": null}},
         "y2": {"field": "rh"},
         "color": {"datum": "exp. uncert.", "type": "nominal"}}},
      {"mark": {"type": "line", "strokeWidth": 2, "interpolate": "monotone"},
       "encoding": {
         "x": {"field": "r", "type": "quantitative", "axis": null},
         "y": {"field": "lo", "type": "quantitative", "axis": {"orient": "right", "tickCount": 20, "labels": false, "tickSize": -11, "tickWidth": 2, "title": null}},
         "color": {"datum": "HERAPDF1.0 7TeV", "type": "nominal"}}},
      {"mark": {"type": "line", "strokeWidth": 2, "interpolate": "monotone"},
       "encoding": {
         "x": {"field": "r", "type": "quantitative", "axis": null},
         "y": {"field": "hi", "type": "quantitative", "axis": null},
         "color": {"datum": "HERAPDF1.0 7TeV", "type": "nominal"}}}
    ]
  },
  {
    "width": 770, "height": 115,
    "data": {"values": [
{"r":-4.5,"gl":0,"yl":0,"rl":0,"rh":0,"yh":0,"gh":0},
{"r":-4.39,"gl":0,"yl":0,"rl":0,"rh":0,"yh":0,"gh":0},
{"r":-4.35,"gl":0,"yl":0,"rl":0,"rh":0,"yh":0,"gh":0.04},
{"r":-4.3,"gl":0,"yl":0,"rl":0,"rh":0,"yh":0,"gh":0.062},
{"r":-4.25,"gl":0,"yl":0,"rl":0,"rh":0,"yh":0,"gh":0.078},
{"r":-4.2,"gl":0,"yl":0,"rl":0,"rh":0,"yh":0,"gh":0.09},
{"r":-4.14,"gl":0,"yl":0,"rl":0,"rh":0,"yh":0,"gh":0.1},
{"r":-4.1,"gl":0,"yl":0,"rl":0,"rh":0,"yh":0,"gh":0.15},
{"r":-4.01,"gl":0,"yl":0,"rl":0,"rh":0,"yh":0,"gh":0.15},
{"r":-4.0,"gl":-0.15,"yl":-0.15,"rl":-0.15,"rh":0.15,"yh":0.15,"gh":0.15},
{"r":-3.78,"gl":-0.1,"yl":-0.1,"rl":-0.1,"rh":0.15,"yh":0.15,"gh":0.15,"bl":-0.1},
{"r":-3.74,"gl":-0.077,"yl":-0.075,"rl":-0.074,"rh":0.1,"yh":0.11,"gh":0.15,"bl":-0.077},
{"r":-3.7,"gl":-0.064,"yl":-0.062,"rl":-0.061,"rh":0.07,"yh":0.078,"gh":0.15,"bl":-0.064},
{"r":-3.65,"gl":-0.054,"yl":-0.052,"rl":-0.051,"rh":0.045,"yh":0.052,"gh":0.145,"bl":-0.054},
{"r":-3.6,"gl":-0.042,"yl":-0.04,"rl":-0.039,"rh":0.033,"yh":0.04,"gh":0.14,"bl":-0.042},
{"r":-3.54,"gl":-0.035,"yl":-0.033,"rl":-0.032,"rh":0.029,"yh":0.035,"gh":0.135,"bl":-0.035,"bh":0.135},
{"r":-3.3,"gl":-0.031,"yl":-0.029,"rl":-0.028,"rh":0.026,"yh":0.032,"gh":0.12,"bl":-0.031,"bh":0.12},
{"r":-3.08,"gl":-0.027,"yl":-0.025,"rl":-0.024,"rh":0.023,"yh":0.03,"gh":0.1,"bl":-0.027,"bh":0.1},
{"r":-2.9,"gl":-0.024,"yl":-0.022,"rl":-0.021,"rh":0.021,"yh":0.029,"gh":0.082,"bl":-0.024,"bh":0.082},
{"r":-2.7,"gl":-0.021,"yl":-0.019,"rl":-0.018,"rh":0.019,"yh":0.028,"gh":0.066,"bl":-0.021,"bh":0.066},
{"r":-2.5,"gl":-0.018,"yl":-0.016,"rl":-0.015,"rh":0.018,"yh":0.027,"gh":0.05,"bl":-0.018,"bh":0.05},
{"r":-2.29,"gl":-0.014,"yl":-0.012,"rl":-0.011,"rh":0.016,"yh":0.026,"gh":0.041,"bl":-0.014,"bh":0.041},
{"r":-2.0,"gl":-0.011,"yl":-0.009,"rl":-0.008,"rh":0.014,"yh":0.025,"gh":0.035,"bl":-0.011,"bh":0.035},
{"r":-1.7,"gl":-0.014,"yl":-0.009,"rl":-0.007,"rh":0.012,"yh":0.025,"gh":0.04,"bl":-0.014,"bh":0.04},
{"r":-1.32,"gl":-0.02,"yl":-0.009,"rl":-0.007,"rh":0.011,"yh":0.026,"gh":0.046,"bl":-0.02,"bh":0.046},
{"r":-1.0,"gl":-0.021,"yl":-0.009,"rl":-0.007,"rh":0.011,"yh":0.026,"gh":0.047,"bl":-0.021,"bh":0.047},
{"r":-0.5,"gl":-0.022,"yl":-0.009,"rl":-0.007,"rh":0.01,"yh":0.026,"gh":0.046,"bl":-0.022,"bh":0.046},
{"r":0,"gl":-0.022,"yl":-0.009,"rl":-0.007,"rh":0.01,"yh":0.026,"gh":0.045,"bl":-0.022,"bh":0.045},
{"r":0.5,"gl":-0.022,"yl":-0.009,"rl":-0.007,"rh":0.01,"yh":0.026,"gh":0.046,"bl":-0.022,"bh":0.046},
{"r":1.0,"gl":-0.021,"yl":-0.009,"rl":-0.007,"rh":0.011,"yh":0.026,"gh":0.047,"bl":-0.021,"bh":0.047},
{"r":1.32,"gl":-0.02,"yl":-0.009,"rl":-0.007,"rh":0.011,"yh":0.026,"gh":0.046,"bl":-0.02,"bh":0.046},
{"r":1.7,"gl":-0.014,"yl":-0.009,"rl":-0.007,"rh":0.012,"yh":0.025,"gh":0.04,"bl":-0.014,"bh":0.04},
{"r":2.0,"gl":-0.011,"yl":-0.009,"rl":-0.008,"rh":0.014,"yh":0.025,"gh":0.035,"bl":-0.011,"bh":0.035},
{"r":2.29,"gl":-0.014,"yl":-0.012,"rl":-0.011,"rh":0.016,"yh":0.026,"gh":0.041,"bl":-0.014,"bh":0.041},
{"r":2.5,"gl":-0.018,"yl":-0.016,"rl":-0.015,"rh":0.018,"yh":0.027,"gh":0.05,"bl":-0.018,"bh":0.05},
{"r":2.7,"gl":-0.021,"yl":-0.019,"rl":-0.018,"rh":0.019,"yh":0.028,"gh":0.066,"bl":-0.021,"bh":0.066},
{"r":2.9,"gl":-0.024,"yl":-0.022,"rl":-0.021,"rh":0.021,"yh":0.029,"gh":0.082,"bl":-0.024,"bh":0.082},
{"r":3.08,"gl":-0.027,"yl":-0.025,"rl":-0.024,"rh":0.023,"yh":0.03,"gh":0.1,"bl":-0.027,"bh":0.1},
{"r":3.3,"gl":-0.031,"yl":-0.029,"rl":-0.028,"rh":0.026,"yh":0.032,"gh":0.12,"bl":-0.031,"bh":0.12},
{"r":3.54,"gl":-0.035,"yl":-0.033,"rl":-0.032,"rh":0.029,"yh":0.035,"gh":0.135,"bl":-0.035,"bh":0.135},
{"r":3.6,"gl":-0.042,"yl":-0.04,"rl":-0.039,"rh":0.033,"yh":0.04,"gh":0.14,"bl":-0.042},
{"r":3.65,"gl":-0.054,"yl":-0.052,"rl":-0.051,"rh":0.045,"yh":0.052,"gh":0.145,"bl":-0.054},
{"r":3.7,"gl":-0.064,"yl":-0.062,"rl":-0.061,"rh":0.07,"yh":0.078,"gh":0.15,"bl":-0.064},
{"r":3.74,"gl":-0.077,"yl":-0.075,"rl":-0.074,"rh":0.1,"yh":0.11,"gh":0.15,"bl":-0.077},
{"r":3.78,"gl":-0.1,"yl":-0.1,"rl":-0.1,"rh":0.15,"yh":0.15,"gh":0.15,"bl":-0.1},
{"r":4.33,"gl":-0.15,"yl":-0.15,"rl":-0.15,"rh":0.15,"yh":0.15,"gh":0.15},
{"r":4.36,"gl":0,"yl":0,"rl":0,"rh":0,"yh":0,"gh":0.15},
{"r":4.38,"gl":0,"yl":0,"rl":0,"rh":0,"yh":0,"gh":0.1},
{"r":4.4,"gl":0,"yl":0,"rl":0,"rh":0,"yh":0,"gh":0.06},
{"r":4.42,"gl":0,"yl":0,"rl":0,"rh":0,"yh":0,"gh":0.02},
{"r":4.43,"gl":0,"yl":0,"rl":0,"rh":0,"yh":0,"gh":0},
{"r":4.5,"gl":0,"yl":0,"rl":0,"rh":0,"yh":0,"gh":0}
    ]},
    "resolve": {"axis": {"x": "independent", "y": "independent"}},
    "layer": [
      {"mark": {"type": "area", "color": "#00ee00", "clip": true},
       "encoding": {
         "x": {"field": "r", "type": "quantitative", "scale": {"domain": [-4.5, 4.5], "nice": false, "zero": false}, "axis": {"orient": "bottom", "values": [-4,-3,-2,-1,0,1,2,3,4], "labelExpr": "'' + datum.value", "labelFontSize": 29, "labelPadding": 21, "tickSize": -14, "tickWidth": 2, "title": "y", "titleFontSize": 34, "titleX": 751, "titleY": 54, "titleBaseline": "alphabetic", "titleAlign": "center"}},
         "y": {"field": "gl", "type": "quantitative", "scale": {"domain": [-0.1, 0.1], "nice": false, "zero": false}, "axis": {"orient": "left", "values": [-0.1,-0.05,0,0.05,0.1], "labelExpr": "'' + datum.value", "labelFontSize": 27, "labelPadding": 52, "tickSize": -25, "tickWidth": 1.5, "tickColor": "#444444", "title": null}},
         "y2": {"field": "gh"}}},
      {"mark": {"type": "area", "color": "#ffff00", "clip": true},
       "encoding": {
         "x": {"field": "r", "type": "quantitative", "axis": {"orient": "bottom", "tickCount": 45, "labels": false, "tickSize": -7, "tickWidth": 1.5, "title": null}},
         "y": {"field": "yl", "type": "quantitative", "axis": {"orient": "left", "tickCount": 40, "labels": false, "tickSize": -10, "tickWidth": 1, "tickColor": "#555555", "title": null}},
         "y2": {"field": "yh"}}},
      {"mark": {"type": "area", "color": "#ff3300", "clip": true},
       "encoding": {
         "x": {"field": "r", "type": "quantitative", "axis": null},
         "y": {"field": "rl", "type": "quantitative", "axis": {"orient": "right", "values": [-0.1,-0.05,0,0.05,0.1], "labels": false, "tickSize": -25, "tickWidth": 1.5, "tickColor": "#444444", "title": null}},
         "y2": {"field": "rh"}}},
      {"mark": {"type": "line", "color": "black", "strokeWidth": 1.5, "clip": true},
       "encoding": {
         "x": {"field": "r", "type": "quantitative", "axis": null},
         "y": {"field": "bl", "type": "quantitative", "axis": {"orient": "right", "tickCount": 40, "labels": false, "tickSize": -10, "tickWidth": 1, "tickColor": "#555555", "title": null}}}},
      {"mark": {"type": "line", "color": "black", "strokeWidth": 1.5, "clip": true},
       "encoding": {
         "x": {"field": "r", "type": "quantitative", "axis": null},
         "y": {"field": "bh", "type": "quantitative", "axis": null}}},
      {"mark": {"type": "rule", "color": "black", "strokeWidth": 3},
       "encoding": {"y": {"datum": 0, "type": "quantitative", "axis": null}}}
    ]
  }
  ]
}
]
}
